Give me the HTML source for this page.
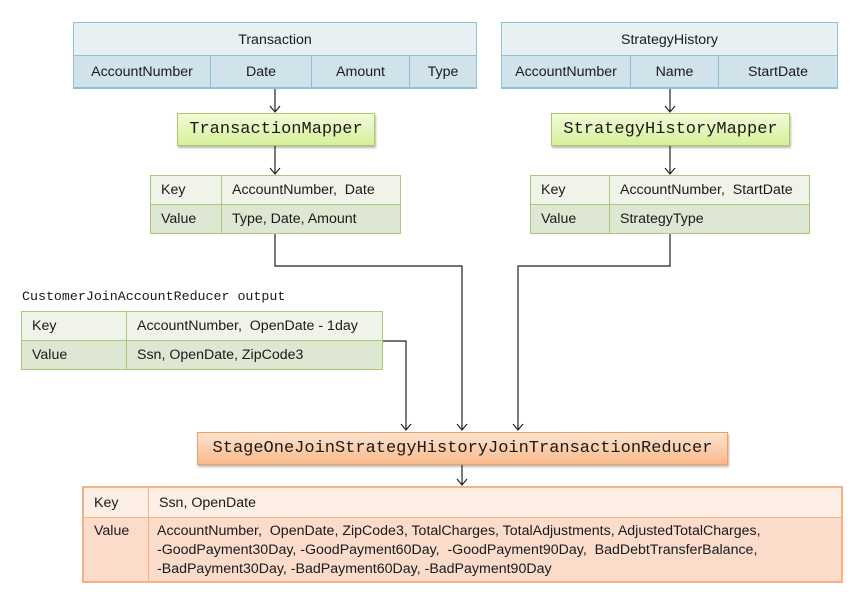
<!DOCTYPE html>
<html><head><meta charset="utf-8"><style>
body{margin:0;width:856px;height:598px;background:#fff;position:relative;overflow:hidden;font-family:"Liberation Sans",sans-serif;font-size:14.2px;color:#1a1a1a}
.a{position:absolute;box-sizing:border-box}
.c{display:flex;align-items:center;justify-content:center}
.l{display:flex;align-items:center;padding-left:10px;white-space:nowrap}
.mono{font-family:"Liberation Mono",monospace}
</style></head><body>
<!-- Transaction table -->
<div class="a c" style="left:73px;top:22px;width:404px;height:34px;background:#e8f0f3;border:1px solid #8fc1d4;border-bottom:none">Transaction</div>
<div class="a c" style="left:73px;top:55px;width:138px;height:34px;background:#d1e3ea;border:1px solid #8fc1d4;border-bottom:2px solid #8fc1d4">AccountNumber</div>
<div class="a c" style="left:210px;top:55px;width:102px;height:34px;background:#d1e3ea;border:1px solid #8fc1d4;border-bottom:2px solid #8fc1d4">Date</div>
<div class="a c" style="left:311px;top:55px;width:99px;height:34px;background:#d1e3ea;border:1px solid #8fc1d4;border-bottom:2px solid #8fc1d4">Amount</div>
<div class="a c" style="left:409px;top:55px;width:68px;height:34px;background:#d1e3ea;border:1px solid #8fc1d4;border-bottom:2px solid #8fc1d4">Type</div>
<!-- StrategyHistory table -->
<div class="a c" style="left:501px;top:22px;width:337px;height:34px;background:#e8f0f3;border:1px solid #8fc1d4;border-bottom:none">StrategyHistory</div>
<div class="a c" style="left:501px;top:55px;width:130px;height:34px;background:#d1e3ea;border:1px solid #8fc1d4;border-bottom:2px solid #8fc1d4">AccountNumber</div>
<div class="a c" style="left:630px;top:55px;width:89px;height:34px;background:#d1e3ea;border:1px solid #8fc1d4;border-bottom:2px solid #8fc1d4">Name</div>
<div class="a c" style="left:718px;top:55px;width:120px;height:34px;background:#d1e3ea;border:1px solid #8fc1d4;border-bottom:2px solid #8fc1d4">StartDate</div>
<!-- Mappers -->
<div class="a c mono" style="left:177px;top:113px;width:198px;height:33px;font-size:17px;background:linear-gradient(#f2fbd8,#d6f09a);border:1px solid #a8cc60;box-shadow:1px 2px 2px #bbb">TransactionMapper</div>
<div class="a c mono" style="left:551px;top:113px;width:239px;height:33px;font-size:17px;background:linear-gradient(#f2fbd8,#d6f09a);border:1px solid #a8cc60;box-shadow:1px 2px 2px #bbb">StrategyHistoryMapper</div>
<!-- Left KV -->
<div class="a l" style="left:150px;top:175px;width:72px;height:30px;background:#eff3e8;border:1px solid #a9c97a">Key</div>
<div class="a l" style="left:221px;top:175px;width:180px;height:30px;background:#eff3e8;border:1px solid #a9c97a">AccountNumber,&nbsp; Date</div>
<div class="a l" style="left:150px;top:204px;width:72px;height:30px;background:#dde7d1;border:1px solid #a9c97a">Value</div>
<div class="a l" style="left:221px;top:204px;width:180px;height:30px;background:#dde7d1;border:1px solid #a9c97a">Type, Date, Amount</div>
<!-- Right KV -->
<div class="a l" style="left:530px;top:175px;width:80px;height:30px;background:#eff3e8;border:1px solid #a9c97a">Key</div>
<div class="a l" style="left:609px;top:175px;width:201px;height:30px;background:#eff3e8;border:1px solid #a9c97a">AccountNumber,&nbsp; StartDate</div>
<div class="a l" style="left:530px;top:204px;width:80px;height:30px;background:#dde7d1;border:1px solid #a9c97a">Value</div>
<div class="a l" style="left:609px;top:204px;width:201px;height:30px;background:#dde7d1;border:1px solid #a9c97a">StrategyType</div>
<!-- Customer -->
<div class="a mono" style="left:22px;top:289px;font-size:13.3px">CustomerJoinAccountReducer output</div>
<div class="a l" style="left:21px;top:311px;width:106px;height:30px;background:#eff3e8;border:1px solid #a9c97a">Key</div>
<div class="a l" style="left:126px;top:311px;width:257px;height:30px;background:#eff3e8;border:1px solid #a9c97a">AccountNumber,&nbsp; OpenDate - 1day</div>
<div class="a l" style="left:21px;top:340px;width:106px;height:30px;background:#dde7d1;border:1px solid #a9c97a">Value</div>
<div class="a l" style="left:126px;top:340px;width:257px;height:30px;background:#dde7d1;border:1px solid #a9c97a">Ssn, OpenDate, ZipCode3</div>
<!-- Reducer -->
<div class="a c mono" style="left:197px;top:432px;width:531px;height:33px;font-size:17px;background:linear-gradient(#fde3cf,#f9b98a);border:1px solid #f0a060;box-shadow:1px 2px 2px #bbb">StageOneJoinStrategyHistoryJoinTransactionReducer</div>
<!-- Bottom table -->
<div class="a l" style="left:82px;top:486px;width:67px;height:32px;background:#fdeee6;border:2px solid #f5b183;border-right:1px solid #f5b183;border-bottom:1px solid #f5b183">Key</div>
<div class="a l" style="left:148px;top:486px;width:695px;height:32px;background:#fdeee6;border:2px solid #f5b183;border-left:1px solid #f5b183;border-bottom:1px solid #f5b183">Ssn, OpenDate</div>
<div class="a" style="left:82px;top:517px;width:67px;height:66px;background:#fbdccb;border:1px solid #f5b183;border-left:2px solid #f5b183;border-bottom:2px solid #f5b183;padding:5px 0 0 10px">Value</div>
<div class="a" style="left:148px;top:517px;width:695px;height:66px;background:#fbdccb;border:1px solid #f5b183;border-right:2px solid #f5b183;border-bottom:2px solid #f5b183;padding:4px 0 0 8px;line-height:19px;white-space:nowrap">AccountNumber,&nbsp; OpenDate, ZipCode3, TotalCharges, TotalAdjustments, AdjustedTotalCharges,<br>-GoodPayment30Day, -GoodPayment60Day,&nbsp; -GoodPayment90Day,&nbsp; BadDebtTransferBalance,<br>-BadPayment30Day, -BadPayment60Day, -BadPayment90Day</div>
<!-- connectors -->
<svg class="a" style="left:0;top:0" width="856" height="598" fill="none" stroke="#222" stroke-width="1.2">
<path d="M275 89V112M270 106l5 6 5-6"/>
<path d="M275 146V174M270 168l5 6 5-6"/>
<path d="M670 89V112M665 106l5 6 5-6"/>
<path d="M670 146V174M665 168l5 6 5-6"/>
<path d="M275 234V266H462V430M457 424l5 6 5-6"/>
<path d="M670 234V266H518V430M513 424l5 6 5-6"/>
<path d="M383 341H406V430M401 424l5 6 5-6"/>
<path d="M462 465V485M457 479l5 6 5-6"/>
</svg>
</body></html>
